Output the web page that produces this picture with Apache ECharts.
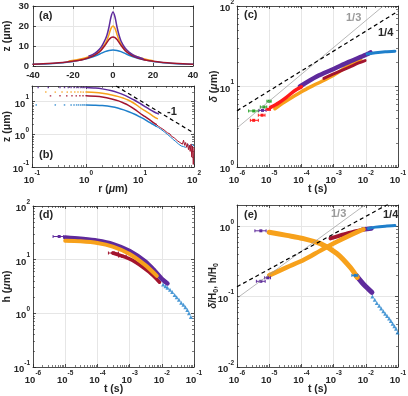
<!DOCTYPE html>
<html>
<head>
<meta charset="utf-8">
<script src="https://cdn.jsdelivr.net/npm/echarts@6/dist/echarts.min.js"></script>
<style>
  html, body { margin: 0; padding: 0; background: #fff; }
  #chart { width: 408px; height: 396px; }
</style>
</head>
<body>
<div id="chart"></div>
<script>
// ---- panel (a): profiles z(x) ----
const aPurpleX = [-12, -10, -8, -6, -4, -3, -2, -1, 0, 1, 2, 3, 4, 6, 8, 10, 12, 15];
const aPurpleZ = [5.0, 5.8, 7.2, 9.3, 13, 15.5, 19.5, 24.5, 27, 24.5, 19.5, 15.5, 12.5, 9, 7, 5.6, 4.6, 3.6];
const aOrangeX = [-22, -18, -14, -10, -8, -6, -4, -3, -2, -1, 0, 1, 2, 3, 4, 6, 8, 10, 14, 18, 20];
const aOrangeZ = [2.5, 3.1, 4.0, 5.5, 6.6, 8.3, 11, 13, 15.8, 18.8, 20, 18.8, 15.8, 13, 11, 8.3, 6.6, 5.5, 4.0, 3.0, 2.6];
const aRedX = [-40, -35, -30, -25, -20, -15, -10, -8, -6, -4, -3, -2, -1, 0, 1, 2, 3, 4, 6, 8, 10, 15, 20, 25, 30, 35, 40];
const aRedZ = [0.9, 1.1, 1.4, 1.8, 2.4, 3.3, 5.0, 6.2, 7.8, 10.3, 11.8, 13.2, 14.2, 14.5, 14.2, 13.2, 11.8, 10.3, 7.8, 6.2, 5.0, 3.3, 2.4, 1.8, 1.4, 1.1, 0.9];
const aBlueX = [-40, -30, -20, -15, -10, -8, -6, -4, -2, 0, 2, 4, 6, 8, 10, 15, 20, 30, 40];
const aBlueZ = [0.9, 1.3, 2.3, 3.2, 4.6, 5.4, 6.3, 7.2, 7.8, 8, 7.8, 7.2, 6.3, 5.4, 4.6, 3.2, 2.3, 1.3, 0.9];

// ---- panel (b): z(r), log-log ----
const bPurpleDotR = [0.13, 0.2, 0.33, 0.4, 0.47, 0.53, 0.6, 0.67, 0.73, 0.8, 0.87, 0.93];
const bOrangeDotR = [0.18, 0.27, 0.36, 0.45, 0.53, 0.62, 0.71, 0.8, 0.89];
const bRedDotR = [0.22, 0.33, 0.44, 0.55, 0.66, 0.77, 0.88];
const bBlueDotR = [0.12, 0.27, 0.4, 0.53, 0.6, 0.67, 0.73, 0.8, 0.87, 0.93];
const bPlateau = { purple: 27, orange: 19.5, red: 15, blue: 7.9 };
const bPurpleR = [1, 1.5, 2, 3, 4, 5, 6, 8, 10, 12, 15, 18, 22];
const bPurpleZ = [27, 26, 24.5, 21.5, 18.5, 16, 14, 11, 8.8, 7.3, 5.8, 4.9, 4.2];
const bOrangeR = [1, 1.5, 2, 3, 4, 5, 6, 8, 10, 12, 15, 18, 21];
const bOrangeZ = [19.5, 19, 18, 16, 14.2, 12.6, 11.2, 8.6, 6.6, 5.4, 4.3, 3.5, 3.0];
const bRedR = [1, 1.5, 2, 3, 4, 5, 6, 8, 10, 12, 15, 18, 20];
const bRedZ = [15, 14.5, 13.8, 12, 10.5, 9, 7.8, 5.8, 4.4, 3.6, 2.8, 2.25, 2.0];
const bBlueR = [1, 1.5, 2, 3, 4, 5, 6, 8, 10, 12, 15, 18, 20];
const bBlueZ = [7.9, 7.8, 7.6, 7.0, 6.3, 5.6, 5.0, 4.1, 3.4, 2.9, 2.3, 1.95, 1.75];
const bTailR = [20, 22, 24, 26, 28, 30, 32, 34, 36, 38, 40, 43, 46, 49, 52, 55, 58, 61, 64, 67, 70, 73, 76, 79, 82, 85, 88, 91, 94, 97, 100];
const bRedTailZ = [2.0, 1.75, 1.6, 1.45, 1.35, 1.2, 1.12, 1.0, 1.02, 0.88, 0.9, 0.78, 0.8, 0.64, 0.72, 0.56, 0.62, 0.5, 0.66, 0.46, 0.56, 0.4, 0.52, 0.34, 0.46, 0.3, 0.5, 0.2, 0.44, 0.12, 0.38];
const bBlueTailZ = [1.75, 1.6, 1.45, 1.32, 1.2, 1.08, 1.0, 0.92, 0.86, 0.8, 0.72, 0.7, 0.6, 0.58, 0.5, 0.54, 0.44, 0.5, 0.42, 0.47, 0.4, 0.44, 0.37, 0.48, 0.42, 0.52, 0.4, 0.5, 0.44, 0.47, 0.44];
const bSlopeR = [3.6, 100];
const bSlopeZ = [30, 1.08];

// ---- panel (c): delta(t) ----
// error-bar points: [t, value, tLow, tHigh]
const cGreenErr = [[3.3e-6, 4.97, 2.3e-6, 4.6e-6], [6.8e-6, 5.57, 5.3e-6, 8.4e-6], [1.0e-5, 6.56, 8.5e-6, 1.15e-5]];
const cPurpleErr = [[6.2e-6, 5.05, 4.8e-6, 8e-6]];
const cRedErr = [[3.3e-6, 3.8, 2.6e-6, 4.6e-6], [6.0e-6, 4.4, 4.6e-6, 7.4e-6], [9.5e-6, 5.2, 8e-6, 1.1e-5]];
const cRedT = [1.1e-5, 2e-5, 3.5e-5, 6e-5, 1e-4];
const cRedD = [5.5, 6.3, 7.4, 8.8, 9.9];
const cOrangeT = [1.5e-5, 3e-5, 1e-4, 3e-4, 1e-3, 3e-3, 7e-3];
const cOrangeD = [5.3, 6.4, 8.6, 10.8, 13.8, 18.3, 21.8];
const cDarkRedT = [5e-4, 1e-3, 3e-3, 6e-3, 9.5e-3];
const cDarkRedD = [12.6, 14.3, 17.3, 19.6, 21];
const cPurpleT = [9e-5, 3e-4, 1e-3, 3e-3, 1e-2, 1.4e-2];
const cPurpleD = [10, 13.3, 16.5, 20.2, 24.8, 26.5];
const cBlueT = [1.1e-2, 2e-2, 4e-2, 8e-2];
const cBlueD = [25.3, 26.2, 27, 27.5];
const cThirdT = [1e-6, 1e-1];
const cThirdD = [3.05, 142];
const cQuarterT = [1e-6, 1e-1];
const cQuarterD = [5.0, 86];

// ---- panel (d): h(t) ----
const dPurpleErr = [[6.5e-6, 27, 4.2e-6, 9e-6]];
const dOrangeErr = [[1.3e-5, 22.5, 1e-5, 1.7e-5]];
const dDarkRedErr = [[3.2e-4, 13.3, 2.2e-4, 4.5e-4], [6e-4, 11.6, 4.6e-4, 7.8e-4]];
const dPurpleT = [1e-5, 3e-5, 1e-4, 3e-4, 1e-3, 3e-3, 6e-3, 1e-2, 1.5e-2];
const dPurpleH = [26, 24.5, 22.5, 19.5, 14.5, 9.3, 6.2, 4.4, 3.6];
const dOrangeT = [1e-5, 3e-5, 1e-4, 3e-4, 1e-3, 3e-3, 7e-3];
const dOrangeH = [22.5, 22, 20.5, 17.5, 12.8, 8, 5.0];
const dDarkRedT = [3e-4, 1.2e-3, 4e-3, 8.5e-3];
const dDarkRedH = [13.3, 9.8, 5.9, 3.8];
const dBlueT = [0.011, 0.013, 0.015, 0.018, 0.021, 0.025, 0.029, 0.034, 0.04, 0.047, 0.054, 0.062, 0.07, 0.08];
const dBlueH = [3.45, 3.2, 3.0, 2.75, 2.5, 2.2, 2.0, 1.8, 1.58, 1.45, 1.3, 1.15, 1.0, 0.85];

// ---- panel (e): delta/H0 and h/H0 ----
const ePurpleErr = [[5.5e-6, 0.165, 4e-6, 7.5e-6], [9e-6, 0.185, 7.2e-6, 1.1e-5], [5.5e-6, 0.86, 3.6e-6, 8e-6]];
const eBlueErr = [[4.7e-3, 0.2, 3.7e-3, 5.6e-3]];
const eRiseT = [1e-5, 3.5e-5, 1.2e-4, 3.9e-4, 1.26e-3, 4.2e-3, 8.5e-3];
const eRiseY = [0.2, 0.26, 0.333, 0.45, 0.6, 0.785, 0.9];
const eDarkRedRiseT = [8e-4, 3e-3, 8.5e-3];
const eDarkRedRiseY = [0.67, 0.8, 0.9];
const ePurpleRiseT = [8e-3, 1.5e-2];
const ePurpleRiseY = [0.9, 0.93];
const eBlueRiseT = [1.2e-2, 2e-2, 4e-2, 8e-2];
const eBlueRiseY = [0.93, 0.97, 1.0, 1.02];
const eFallT = [1e-5, 3.5e-5, 1.17e-4, 3.9e-4, 1.26e-3, 3.3e-3, 5.4e-3];
const eFallY = [0.82, 0.74, 0.666, 0.565, 0.41, 0.26, 0.188];
const ePurpleFallT = [5e-3, 8.5e-3, 1.55e-2];
const ePurpleFallY = [0.2, 0.15, 0.115];
const eBlueFallT = [0.016, 0.019, 0.022, 0.026, 0.03, 0.035, 0.04, 0.046, 0.053, 0.06, 0.068, 0.077, 0.087, 0.097];
const eBlueFallY = [0.1, 0.09, 0.081, 0.074, 0.068, 0.062, 0.057, 0.053, 0.049, 0.045, 0.041, 0.038, 0.035, 0.031];
const eThirdT = [1e-6, 1e-1];
const eThirdY = [0.095, 4.4];
const eQuarterT = [1e-6, 1e-1];
const eQuarterY = [0.138, 2.45];

const PURPLE = '#5E2A9C';
const ORANGE = '#F7A11B';
const DARKRED = '#A3152E';
const BLUE = '#1E7FCB';
const GREEN = '#2DA52D';
const RED = '#FF1A1A';
const INK = '#262626';
const GRIDC = '#e6e6e6';
const FONT = '"Liberation Sans", Arial, sans-serif';

const pts = (xs, ys) => xs.map((x, i) => [x, ys[i]]);
const flat = (xs, y) => xs.map(x => [x, y]);

const supRich = {
  b: { fontSize: 9.5, fontWeight: 'bold', fontFamily: FONT, color: INK, lineHeight: 15, verticalAlign: 'bottom' },
  s: { fontSize: 6.5, fontWeight: 'bold', fontFamily: FONT, color: INK, lineHeight: 7, verticalAlign: 'top' }
};
const nameRich = {
  n: { fontSize: 10.5, fontWeight: 'bold', fontFamily: FONT, color: INK },
  i: { fontSize: 10.5, fontWeight: 'bold', fontStyle: 'italic', fontFamily: FONT, color: INK },
  en: { fontSize: 10, fontWeight: 'bold', fontFamily: FONT, color: INK, lineHeight: 12, verticalAlign: 'top' },
  ei: { fontSize: 10, fontWeight: 'bold', fontStyle: 'italic', fontFamily: FONT, color: INK, lineHeight: 12, verticalAlign: 'top' },
  sub: { fontSize: 7, fontWeight: 'bold', fontFamily: FONT, color: INK, lineHeight: 8, verticalAlign: 'bottom' }
};
const supLabel = v => '{b|10}{s|' + Math.round(Math.log10(v)) + '}';

function minorVals(min, max) {
  const v = [];
  for (let d = Math.floor(Math.log10(min)); d < Math.log10(max); d++) {
    for (let k = 2; k <= 9; k++) {
      const t = k * Math.pow(10, d);
      if (t > min && t < max) v.push(t);
    }
  }
  return v;
}

const grids = [
  { left: 33, top: 6, width: 160, height: 60 },
  { left: 32, top: 86, width: 162, height: 81 },
  { left: 237, top: 6, width: 161, height: 161 },
  { left: 33, top: 206, width: 161, height: 161 },
  { left: 237, top: 205, width: 161, height: 162 }
];

const xSpec = [
  { type: 'value', min: -40, max: 40, interval: 20 },
  { type: 'log', min: 0.1, max: 100, name: '{n|r (}{i|μ}{n|m)}', nameGap: 17 },
  { type: 'log', min: 1e-6, max: 1e-1, name: '{n|t (s)}', nameGap: 17 },
  { type: 'log', min: 1e-6, max: 1e-1, name: '{n|t (s)}', nameGap: 17 },
  { type: 'log', min: 1e-6, max: 1e-1, name: '{n|t (s)}', nameGap: 17 }
];
const ySpec = [
  { type: 'value', min: 0, max: 30, interval: 10, name: '{n|z (μm)}', nameGap: 20 },
  { type: 'log', min: 0.1, max: 30, name: '{n|z (μm)}', nameGap: 19, showMax: false },
  { type: 'log', min: 1, max: 100, name: '{i|δ}{n| (}{i|μ}{n|m)}', nameGap: 17 },
  { type: 'log', min: 0.1, max: 100, name: '{n|h (}{i|μ}{n|m)}', nameGap: 20 },
  { type: 'log', min: 0.01, max: 2, name: '{ei|δ}{en|/H}{sub|0}{en|, h/H}{sub|0}', nameGap: 17, showMax: false }
];

const lineSt = { color: INK, width: 0.8 };
function mainAxis(dim, g, s) {
  const isLog = s.type === 'log';
  return {
    gridIndex: g, type: s.type, min: s.min, max: s.max, interval: s.interval,
    position: dim === 'x' ? 'bottom' : 'left',
    name: s.name || '', nameLocation: 'middle', nameGap: s.nameGap, nameRotate: dim === 'y' ? 90 : 0,
    nameMoveOverlap: false,
    nameTextStyle: { fontFamily: FONT, fontWeight: 'bold', fontSize: 10.5, color: INK, rich: nameRich },
    axisLine: { show: true, onZero: false, lineStyle: lineSt },
    axisTick: { show: true, inside: true, length: 3, lineStyle: lineSt },
    axisLabel: {
      margin: isLog ? 3 : 4, showMinLabel: true, showMaxLabel: s.showMax !== false,
      formatter: isLog ? supLabel : '{value}', rich: supRich,
      fontFamily: FONT, fontWeight: 'bold', fontSize: 9.5, color: INK
    },
    splitLine: { show: true, lineStyle: { color: GRIDC, width: 1 } }
  };
}
function mirrorAxis(dim, g, s) {
  return {
    gridIndex: g, type: s.type, min: s.min, max: s.max, interval: s.interval,
    position: dim === 'x' ? 'top' : 'right',
    axisLine: { show: true, onZero: false, lineStyle: lineSt },
    axisTick: { show: true, inside: true, length: 3, lineStyle: lineSt },
    axisLabel: { show: false }, splitLine: { show: false }
  };
}
function minorAxis(g, s, pos) {
  return {
    gridIndex: g, type: 'log', min: s.min, max: s.max, position: pos,
    axisLine: { show: false },
    axisTick: { show: true, inside: true, length: 2, customValues: minorVals(s.min, s.max), lineStyle: { color: INK, width: 0.6 } },
    axisLabel: { show: false }, splitLine: { show: false }
  };
}

const xAxes = [], yAxes = [];
for (let g = 0; g < 5; g++) { xAxes.push(mainAxis('x', g, xSpec[g])); yAxes.push(mainAxis('y', g, ySpec[g])); }
for (let g = 0; g < 5; g++) { xAxes.push(mirrorAxis('x', g, xSpec[g])); yAxes.push(mirrorAxis('y', g, ySpec[g])); }
for (let g = 1; g < 5; g++) {
  xAxes.push(minorAxis(g, xSpec[g], 'bottom'), minorAxis(g, xSpec[g], 'top'));
  yAxes.push(minorAxis(g, ySpec[g], 'left'), minorAxis(g, ySpec[g], 'right'));
}

function curve(g, data, color, w, smooth) {
  return {
    type: 'line', xAxisIndex: g, yAxisIndex: g, data: data, showSymbol: false, symbol: 'none',
    smooth: smooth === undefined ? 0.3 : smooth, silent: true, clip: true,
    lineStyle: { color: color, width: w, cap: 'round', join: 'round' }, itemStyle: { color: color }
  };
}
function refLine(g, data, color, w, dashed) {
  return {
    type: 'line', xAxisIndex: g, yAxisIndex: g, data: data, showSymbol: false, symbol: 'none',
    silent: true, clip: true, z: 5,
    lineStyle: { color: color, width: w, type: dashed ? [4, 3] : 'solid' }
  };
}
function dots(g, data, color, size, symbol) {
  return {
    type: 'scatter', xAxisIndex: g, yAxisIndex: g, data: data, symbol: symbol || 'rect',
    symbolSize: size, silent: true, itemStyle: { color: color }
  };
}
function errPts(g, data, color) {
  return {
    type: 'custom', xAxisIndex: g, yAxisIndex: g, data: data, z: 4, silent: true,
    encode: { x: [0, 2, 3], y: 1 },
    renderItem: (params, api) => {
      const p = api.coord([api.value(0), api.value(1)]);
      const lo = api.coord([api.value(2), api.value(1)]);
      const hi = api.coord([api.value(3), api.value(1)]);
      const st = { stroke: color, lineWidth: 1 };
      return {
        type: 'group', children: [
          { type: 'line', shape: { x1: lo[0], y1: lo[1], x2: hi[0], y2: hi[1] }, style: st },
          { type: 'line', shape: { x1: lo[0], y1: lo[1] - 1.5, x2: lo[0], y2: lo[1] + 1.5 }, style: st },
          { type: 'line', shape: { x1: hi[0], y1: hi[1] - 1.5, x2: hi[0], y2: hi[1] + 1.5 }, style: st },
          { type: 'rect', shape: { x: p[0] - 1.5, y: p[1] - 1.5, width: 3, height: 3 }, style: { fill: color } }
        ]
      };
    }
  };
}

const series = [
  // (a)
  curve(0, pts(aBlueX, aBlueZ), BLUE, 1.5),
  curve(0, pts(aOrangeX, aOrangeZ), ORANGE, 1.5),
  curve(0, pts(aRedX, aRedZ), DARKRED, 1.5),
  curve(0, pts(aPurpleX, aPurpleZ), PURPLE, 1.5),
  // (b)
  dots(1, flat(bPurpleDotR, bPlateau.purple), PURPLE, 1.5),
  dots(1, flat(bOrangeDotR, bPlateau.orange), ORANGE, 1.5),
  dots(1, flat(bRedDotR, bPlateau.red), DARKRED, 1.5),
  dots(1, flat(bBlueDotR, bPlateau.blue), BLUE, 1.5),
  curve(1, pts(bBlueR, bBlueZ), BLUE, 1.5),
  curve(1, pts(bTailR, bBlueTailZ), BLUE, 1, false),
  curve(1, pts(bRedR, bRedZ), DARKRED, 1.5),
  curve(1, pts(bTailR, bRedTailZ), DARKRED, 1, false),
  curve(1, pts(bOrangeR, bOrangeZ), ORANGE, 1.5),
  curve(1, pts(bPurpleR, bPurpleZ), PURPLE, 1.5),
  refLine(1, pts(bSlopeR, bSlopeZ), '#000', 1.2, true),
  // (c)
  refLine(2, pts(cThirdT, cThirdD), '#9a9a9a', 0.7, false),
  refLine(2, pts(cQuarterT, cQuarterD), '#000', 1.2, true),
  errPts(2, cGreenErr, GREEN),
  errPts(2, cPurpleErr, PURPLE),
  errPts(2, cRedErr, RED),
  curve(2, pts(cOrangeT, cOrangeD), ORANGE, 3.5),
  curve(2, pts(cDarkRedT, cDarkRedD), DARKRED, 3),
  curve(2, pts(cPurpleT, cPurpleD), PURPLE, 4.5),
  curve(2, pts(cRedT, cRedD), RED, 3.5),
  curve(2, pts(cBlueT, cBlueD), BLUE, 3),
  // (d)
  curve(3, pts(dDarkRedT, dDarkRedH), DARKRED, 3.5),
  curve(3, pts(dPurpleT, dPurpleH), PURPLE, 4.5),
  curve(3, pts(dOrangeT, dOrangeH), ORANGE, 4),
  errPts(3, dPurpleErr, PURPLE),
  errPts(3, dOrangeErr, ORANGE),
  errPts(3, dDarkRedErr, DARKRED),
  dots(3, pts(dBlueT, dBlueH), BLUE, 4, 'triangle'),
  // (e)
  refLine(4, pts(eThirdT, eThirdY), '#9a9a9a', 0.7, false),
  refLine(4, pts(eQuarterT, eQuarterY), '#000', 1.2, true),
  curve(4, pts(eDarkRedRiseT, eDarkRedRiseY), DARKRED, 4),
  curve(4, pts(ePurpleRiseT, ePurpleRiseY), PURPLE, 4.5),
  curve(4, pts(eBlueRiseT, eBlueRiseY), BLUE, 3),
  curve(4, pts(ePurpleFallT, ePurpleFallY), PURPLE, 5),
  curve(4, pts(eRiseT, eRiseY), ORANGE, 4.5),
  curve(4, pts(eFallT, eFallY), ORANGE, 5),
  errPts(4, ePurpleErr, PURPLE),
  errPts(4, eBlueErr, BLUE),
  dots(4, pts(eBlueFallT, eBlueFallY), BLUE, 4, 'triangle')
];

const txt = (left, top, text, fill, weight) => ({
  type: 'text', left: left, top: top, z: 100,
  style: { text: text, fill: fill || INK, font: (weight || 'bold') + ' 11px "Liberation Sans", Arial, sans-serif' }
});

const chart = echarts.init(document.getElementById('chart'), null, { renderer: 'canvas' });
chart.setOption({
  animation: false,
  backgroundColor: '#fff',
  grid: grids.map(g => Object.assign({ outerBoundsMode: 'none', containLabel: false }, g)),
  xAxis: xAxes,
  yAxis: yAxes,
  series: series,
  graphic: [
    txt(39, 10, '(a)'),
    txt(39, 149, '(b)'),
    txt(244, 9, '(c)'),
    txt(39, 209, '(d)'),
    txt(244, 209, '(e)'),
    txt(167, 106, '-1'),
    txt(346, 12, '1/3', '#9a9a9a'),
    txt(378, 27, '1/4'),
    txt(331, 208, '1/3', '#9a9a9a'),
    txt(383, 209, '1/4')
  ]
});
</script>
</body>
</html>
